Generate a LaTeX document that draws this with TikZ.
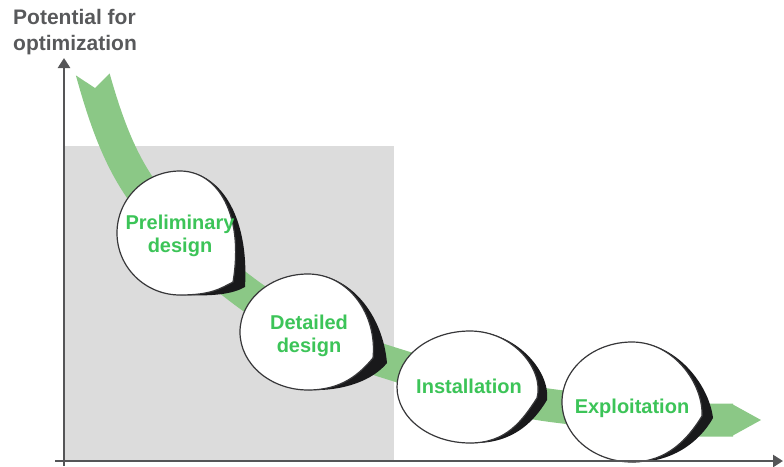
\documentclass[tikz,border=0pt]{standalone}
\usepackage{fontspec}
\setmainfont{Liberation Sans}
\usetikzlibrary{arrows.meta}
\definecolor{bandgreen}{RGB}{139,200,134}
\definecolor{textgreen}{RGB}{60,196,88}
\definecolor{titlegray}{RGB}{88,89,91}
\definecolor{axisgray}{RGB}{85,85,87}
\definecolor{panelgray}{RGB}{220,220,220}
\definecolor{outlinegray}{RGB}{55,55,57}
\definecolor{shadowblack}{RGB}{25,25,27}
\tikzset{
  bubblefill/.style={fill=white, draw=outlinegray, line width=1.2pt},
  bubbleshadow/.style={fill=shadowblack},
  bubbletext/.style={font=\bfseries\fontsize{20}{23}\selectfont, text=textgreen, align=center, inner sep=0pt},
  titletext/.style={font=\bfseries\fontsize{21}{26}\selectfont, text=titlegray, inner sep=0pt, anchor=base west},
  axisline/.style={draw=axisgray, line width=2.5pt, -{Triangle[length=10pt,width=12pt]}},
  band/.style={draw=bandgreen, line width=33pt},
}
% #1,#2 centre; #3,#4 radii; #5,#6 white tip; #7,#8 shadow tip
\newcommand{\bubbleshape}[8]{%
  \begin{scope}[shift={(#1,#2)}]
    \fill[bubbleshadow] (0,-#4) .. controls ({0.62*#3},{-#4}) and ({1.1*#3},{-0.3*#4}) .. (#7,#8)
      .. controls ({#7-0.2*#3},{(#8+#4)/2+3}) and ({0.55*#3},{#4+1.5}) .. (0,#4) -- cycle;
    \filldraw[bubblefill] (0,-#4) .. controls ({0.6*#3},{-#4}) and ({1.02*#3},{-0.3*#4}) .. (#5,#6)
      .. controls ({#5-0.2*#3},{(#6+#4)/2}) and ({0.5*#3},{#4}) .. (0,#4)
      .. controls ({-0.552*#3},{#4}) and ({-#3},{0.552*#4}) .. (-#3,0)
      .. controls ({-#3},{-0.552*#4}) and ({-0.552*#3},{-#4}) .. cycle;
  \end{scope}}
\begin{document}
\begin{tikzpicture}[x=1pt,y=-1pt]
\useasboundingbox (0,0) rectangle (784,466);
% gray panel
\fill[panelgray] (64,146) rectangle (394,461);
% green band
\begin{scope}
  \clip (0,76) -- (76,75.5) -- (95,88) -- (110,73) -- (784,73) -- (784,466) -- (0,466) -- cycle;
  \draw[band] (86,50) .. controls (98,94) and (110.6,141) .. (135,180)
    .. controls (162.6,224) and (203.4,260.8) .. (245,292)
    .. controls (288,324) and (338,347) .. (390,363)
    .. controls (445,380) and (498.6,399) .. (555,406)
    .. controls (603.5,412) and (651,420) .. (700,420) -- (733,420);
\end{scope}
\fill[bandgreen] (732,404) -- (761,420) -- (732,436) -- cycle;
% bubbles
\bubbleshape{180}{233}{63}{62}{53}{49}{65}{54}
\bubbleshape{308}{332}{68}{58}{65}{26}{79}{31}
\bubbleshape{470}{387}{73}{56}{67}{11}{77}{13}
\bubbleshape{632}{402}{70}{60}{70}{14}{81}{16}
\node[bubbletext] (prelim) at (180,236) {Preliminary\\design};
\node[bubbletext] (detail) at (309,336) {Detailed\\design};
\node[bubbletext, anchor=base] (install) at (469,393) {Installation};
\node[bubbletext, anchor=base] (exploit) at (632,413) {Exploitation};
% axes
\coordinate (origin) at (64,466);
\coordinate (ytip) at (64,58);
\coordinate (xstart) at (55,461);
\coordinate (xtip) at (783,461);
\draw[axisline] (origin) -- (ytip);
\draw[axisline] (xstart) -- (xtip);
% title
\node[titletext] (title1) at (13,24) {Potential for};
\node[titletext] (title2) at (13,50) {optimization};
\end{tikzpicture}
\end{document}
